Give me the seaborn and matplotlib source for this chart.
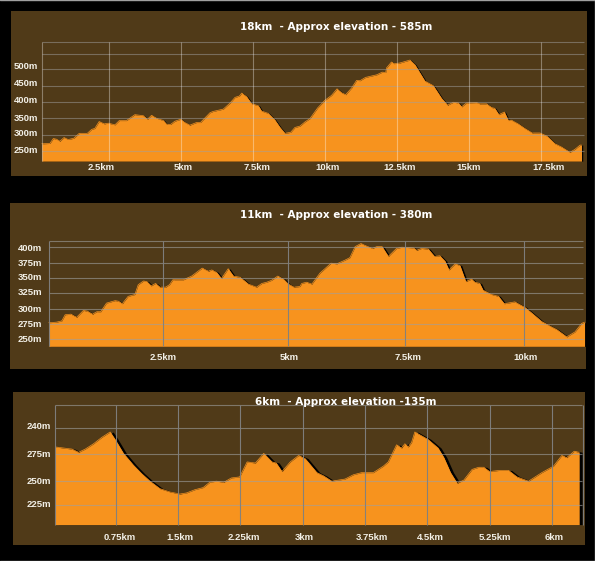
import matplotlib
matplotlib.use("Agg")
import matplotlib.pyplot as plt
import matplotlib.transforms as mtrans
from matplotlib.lines import Line2D
import seaborn as sns

# Route 1 - 18km
km_18 = [0.17, 0.45, 0.57, 0.68, 0.80, 0.94, 1.09, 1.28, 1.47, 1.75, 1.90, 2.01, 2.16, 2.34, 2.48, 2.71, 2.86, 3.11,
         3.40, 3.69, 3.84, 3.98, 4.16, 4.39, 4.50, 4.64, 4.79, 4.99, 5.14, 5.31, 5.54, 5.68, 6.01, 6.12, 6.47, 6.70,
         6.88, 7.03, 7.11, 7.28, 7.45, 7.69, 7.80, 8.03, 8.26, 8.44, 8.61, 8.81, 8.96, 9.13, 9.31, 9.48, 9.75, 10.0,
         10.23, 10.42, 10.58, 10.72, 10.93, 11.10, 11.22, 11.41, 11.80, 11.99, 12.11, 12.14, 12.31, 12.40, 12.60,
         12.95, 13.13, 13.47, 13.76, 14.05, 14.26, 14.46, 14.63, 14.75, 14.92, 15.27, 15.38, 15.61, 15.79, 15.90,
         16.04, 16.23, 16.37, 16.48, 16.71, 16.94, 17.20, 17.47, 17.70, 17.99, 18.22, 18.51, 18.68, 18.86, 18.91]
elev_18 = [272, 273, 288, 286, 280, 291, 285, 289, 304, 304, 316, 319, 340, 333, 335, 330, 343, 343,
           361, 358, 347, 359, 350, 343, 332, 331, 341, 347, 337, 329, 337, 337, 367, 371, 378, 396,
           414, 418, 427, 416, 395, 388, 372, 365, 345, 322, 304, 307, 322, 326, 339, 349, 382, 405,
           420, 440, 428, 422, 443, 466, 465, 475, 483, 491, 490, 504, 522, 517, 519,
           528, 513, 464, 450, 411, 390, 399, 397, 385, 397, 398, 394, 394, 383, 380,
           361, 369, 343, 344, 333, 319, 305, 305, 296, 272, 262, 246, 255, 268, 268]
grid_x_18 = [2.5, 5, 7.5, 10, 12.5, 15, 17.5]
grid_y_18 = [250, 300, 350, 400, 450, 500, 546, 583]
xlabels_18 = ["2.5km", "5km", "7.5km", "10km", "12.5km", "15km", "17.5km"]
xlabel_pos_18 = [2.22, 5.07, 7.64, 10.1, 12.6, 15.0, 17.78]
ylabels_18 = ["500m", "450m", "400m", "350m", "300m", "250m"]
ylabel_pos_18 = [507, 455, 403, 349, 302, 250]

# Route 2 - 11km
km_11 = [0.12, 0.28, 0.39, 0.46, 0.58, 0.70, 0.84, 0.92, 1.03, 1.12, 1.20, 1.32, 1.50, 1.57, 1.65, 1.77, 1.91, 1.98,
         2.09, 2.16, 2.25, 2.34, 2.43, 2.55, 2.63, 2.70, 2.92, 3.09, 3.31, 3.44, 3.51, 3.61, 3.71, 3.85, 3.96, 4.10,
         4.27, 4.44, 4.55, 4.65, 4.75, 4.88, 5.00, 5.10, 5.22, 5.34, 5.38, 5.48, 5.59, 5.76, 5.99, 6.11, 6.28, 6.38,
         6.49, 6.61, 6.73, 6.85, 6.94, 7.05, 7.18, 7.35, 7.46, 7.70, 7.77, 7.87, 8.01, 8.14, 8.25, 8.36, 8.44, 8.57,
         8.67, 8.79, 8.91, 8.98, 9.08, 9.15, 9.33, 9.47, 9.59, 9.81, 10.02, 10.16, 10.37, 10.58, 10.68, 10.89, 11.06,
         11.20, 11.26]
elev_11 = [277, 278, 280, 290, 291, 286, 297, 296, 291, 295, 295, 309, 313, 312, 308, 320, 323, 339,
           345, 344, 337, 341, 335, 335, 339, 347, 347, 353, 366, 361, 363, 359, 349, 365, 353, 351,
           340, 335, 341, 343, 346, 353, 348, 340, 335, 336, 341, 343, 340, 358, 374, 373, 379, 383,
           401, 406, 402, 398, 401, 401, 385, 398, 400, 399, 395, 398, 397, 385, 386, 377, 363, 373,
           370, 344, 348, 343, 341, 330, 323, 320, 308, 311, 302, 293, 279, 270, 266, 254, 262,
           276, 278]
grid_x_11 = [2.5, 5.09, 7.52, 10]
grid_y_11 = [250, 275, 300, 325, 350, 375, 400, 410]
xlabels_11 = ["2.5km", "5km", "7.5km", "10km"]
xlabel_pos_11 = [2.5, 5.11, 7.59, 10.04]
ylabels_11 = ["400m", "375m", "350m", "325m", "300m", "275m", "250m"]
ylabel_pos_11 = [398, 373, 350, 326, 299, 274, 249]

# Route 3 - 6km
km_6 = [0.02, 0.12, 0.22, 0.30, 0.38, 0.48, 0.58, 0.68, 0.74, 0.84, 0.96, 1.06, 1.16, 1.28, 1.40, 1.52, 1.60, 1.70,
        1.80, 1.88, 1.96, 2.05, 2.14, 2.24, 2.33, 2.43, 2.53, 2.63, 2.68, 2.75, 2.85, 2.95, 3.03, 3.17, 3.25, 3.35,
        3.51, 3.61, 3.71, 3.85, 3.97, 4.03, 4.13, 4.19, 4.23, 4.27, 4.31, 4.35, 4.51, 4.63, 4.70, 4.78, 4.86, 4.94,
        5.04, 5.12, 5.18, 5.25, 5.36, 5.48, 5.58, 5.72, 5.88, 6.02, 6.12, 6.18, 6.27, 6.33]
elev_6 = [282, 281, 280, 277, 280, 285, 291, 296, 289, 276, 265, 257, 250, 243, 240, 238, 239, 242,
          244, 249, 250, 249, 253, 254, 268, 267, 276, 268, 267, 259, 268, 274, 271, 258, 255, 250,
          252, 256, 258, 258, 264, 268, 284, 281, 285, 282, 286, 296, 289, 281, 272, 258, 248, 251,
          261, 263, 263, 259, 260, 260, 254, 250, 258, 264, 274, 272, 278, 277]
grid_x_6 = [0.75, 1.5, 2.25, 3, 3.75, 4.5, 5.25, 6, 6.37]
grid_y_6 = [227.5, 250, 275, 300, 321]
xlabels_6 = ["0.75km", "1.5km", "2.25km", "3km", "3.75km", "4.5km", "5.25km", "6km"]
xlabel_pos_6 = [0.79, 1.52, 2.29, 3.02, 3.83, 4.54, 5.32, 6.03]
ylabels_6 = ["240m", "275m", "250m", "225m"]
ylabel_pos_6 = [301, 275, 250, 228]

BROWN = "#503a18"
ORANGE = "#f7931e"
W, H = 595, 561
LABEL_FONT = ["Liberation Sans Narrow", "Liberation Sans", "DejaVu Sans"]

sns.set_theme(style="dark")
fig = plt.figure(figsize=(W / 100, H / 100), dpi=100, facecolor="black")


def draw_panel(box, xlim, ylim, base, km, elev, grid_x, grid_y, vcolor, halpha, shadow_px,
               title, title_pos, xlabels, xlabel_pos, xlabel_y, ylabels, ylabel_pos, ylabel_x):
    left, top, right, bottom = box
    ax = fig.add_axes([left / W, 1 - bottom / H, (right - left) / W, (bottom - top) / H], facecolor=BROWN)
    ax.set_xlim(xlim)
    ax.set_ylim(ylim)
    ax.set_xticks([])
    ax.set_yticks([])
    for s in ax.spines.values():
        s.set_visible(False)

    # black edge sits a little to the right of the orange
    shift = mtrans.ScaledTranslation(shadow_px / 100, 0, fig.dpi_scale_trans)
    ax.fill_between(km, elev, base, color="black", lw=0, transform=ax.transData + shift, zorder=2)
    ax.fill_between(km, elev, base, color=ORANGE, lw=0, zorder=3)
    sns.lineplot(x=km, y=elev, color=ORANGE, lw=0.5, estimator=None, ax=ax, zorder=3, legend=False)
    ax.set_xlabel("")
    ax.set_ylabel("")

    ax.hlines(grid_y, km[0], xlim[1] - 0.005 * (xlim[1] - xlim[0]),
              color="#a0a0a0", alpha=halpha, lw=0.8, zorder=4)
    ax.vlines(grid_x, base, grid_y[-1], color=vcolor[0], alpha=vcolor[1], lw=0.8, zorder=4)
    ax.vlines(km[0], base, grid_y[-1], color=vcolor[0], alpha=vcolor[1], lw=0.8, zorder=4)

    ax.text(title_pos[0], title_pos[1], title, transform=ax.transAxes, color="white", fontsize=7.5,
            fontweight="bold", family="DejaVu Sans", ha="center", va="center", zorder=5)
    for x, t in zip(xlabel_pos, xlabels):
        ax.text(x, xlabel_y, t, color="#f2efe6", fontsize=6.8, fontweight="bold", family=LABEL_FONT,
                ha="center", va="center", zorder=5)
    for y, t in zip(ylabel_pos, ylabels):
        ax.text(ylabel_x, y, t, color="#f2efe6", fontsize=6.8, fontweight="bold", family=LABEL_FONT,
                ha="center", va="center", zorder=5)
    return ax


draw_panel((11, 11, 587, 176), (-0.90, 19.10), (173.5, 678), 219, km_18, elev_18, grid_x_18, grid_y_18,
           ("white", 0.35), 0.5, 1.2, "18km  - Approx elevation - 585m", (0.564, 0.903),
           xlabels_18, xlabel_pos_18, 199.5, ylabels_18, ylabel_pos_18, -0.38)

draw_panel((10, 203, 586, 369), (-0.686, 11.29), (201.7, 472), 238.6, km_11, elev_11, grid_x_11, grid_y_11,
           ("#808080", 0.95), 0.6, 1.8, "11km  - Approx elevation - 380m", (0.566, 0.928),
           xlabels_11, xlabel_pos_11, 221, ylabels_11, ylabel_pos_11, -0.27)

draw_panel((13, 392, 585, 545), (-0.49, 6.40), (190.3, 333.4), 209.4, km_6, elev_6, grid_x_6, grid_y_6,
           ("#808080", 0.95), 0.6, 3, "6km  - Approx elevation -135m", (0.582, 0.935),
           xlabels_6, xlabel_pos_6, 197, ylabels_6, ylabel_pos_6, -0.18)

# thin grey border along the image edges
fig.add_artist(Line2D([0, 1], [0.9995, 0.9995], color="#a0a0a0", lw=1))
fig.add_artist(Line2D([0, 1], [0.0005, 0.0005], color="#a0a0a0", lw=1))
fig.add_artist(Line2D([0.9995, 0.9995], [0, 1], color="#a0a0a0", lw=1))

fig.savefig("out.png", dpi=100, facecolor="black")
